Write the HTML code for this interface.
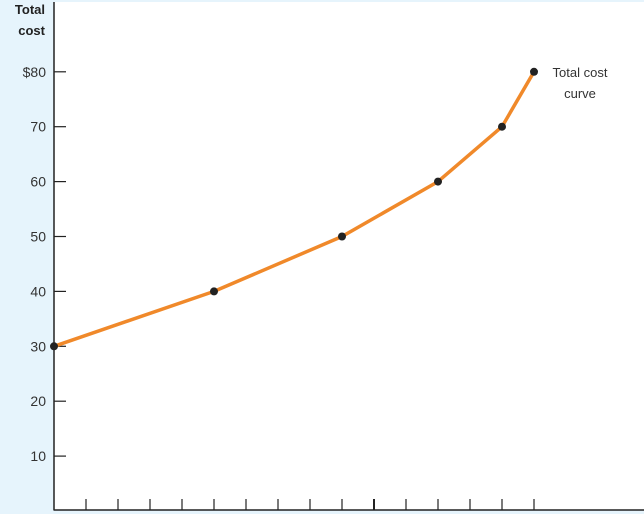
<!DOCTYPE html>
<html><head><meta charset="utf-8"><style>
body{margin:0;background:#e6f4fc;}
svg{display:block;font-family:"Liberation Sans",sans-serif;}
</style></head><body>
<svg width="644" height="514">
<rect x="0" y="0" width="644" height="514" fill="#e6f4fc"/>
<rect x="54" y="2" width="590" height="508" fill="#ffffff"/>
<g id="g"></g>
</svg>
<script>
const quantities=[0,5,9,12,14,15];
const totalCost=[30,40,50,60,70,80];
const yTicks=[10,20,30,40,50,60,70,80];
const yTickLabels=["10","20","30","40","50","60","70","$80"];
const xTickCount=15;
const X=q=>54+q*32, Y=v=>511-v*5.49;
const g=document.getElementById('g');const NS='http://www.w3.org/2000/svg';
function mk(t,a,txt){const e=document.createElementNS(NS,t);for(const k in a)e.setAttribute(k,a[k]);if(txt)e.textContent=txt;g.appendChild(e);return e;}
let e;
e=mk('line',{x1:54,y1:2,x2:54,y2:510.5,stroke:'#222','stroke-width':1.5});


e=mk('line',{x1:54,y1:510,x2:644,y2:510,stroke:'#222','stroke-width':1.5});


yTicks.forEach((v,i)=>{
 e=mk('line',{x1:54,y1:Y(v),x2:66,y2:Y(v),stroke:'#222','stroke-width':1.2});
 
 
 e=mk('text',{x:46,y:Y(v)+5,'text-anchor':'end','font-size':14,fill:'#333'},yTickLabels[i]);
 
 
});
for(let q=1;q<=xTickCount;q++){
 e=mk('line',{x1:X(q),y1:499,x2:X(q),y2:510,stroke:'#222','stroke-width':q==10?2:1.2});
 
 
}
e=mk('text',{x:45,y:14,'text-anchor':'end','font-size':13,'font-weight':'bold',fill:'#222'},'Total');


e=mk('text',{x:45,y:35,'text-anchor':'end','font-size':13,'font-weight':'bold',fill:'#222'},'cost');


e=mk('polyline',{points:quantities.map((q,i)=>X(q)+','+Y(totalCost[i])).join(' '),fill:'none',stroke:'#f0892a','stroke-width':3.5,'stroke-linejoin':'round'});


quantities.forEach((q,i)=>{
 e=mk('circle',{cx:X(q),cy:Y(totalCost[i]),r:4,fill:'#222'});
 
 
});
e=mk('text',{x:580,y:77,'text-anchor':'middle','font-size':13,fill:'#333'},'Total cost');


e=mk('text',{x:580,y:98,'text-anchor':'middle','font-size':13,fill:'#333'},'curve');


</script>
</body></html>
